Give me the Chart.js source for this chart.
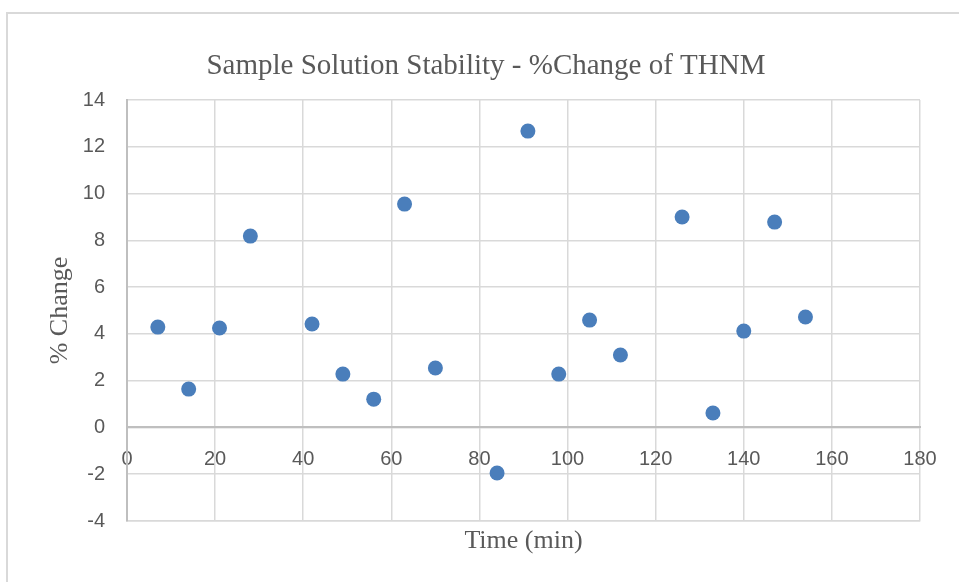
<!DOCTYPE html>
<html>
<head>
<meta charset="utf-8">
<title>Sample Solution Stability</title>
<script src="https://cdn.jsdelivr.net/npm/chart.js@4"></script>
<style>
  html, body { margin: 0; padding: 0; background: #fff; overflow: hidden; }
  #wrap { position: relative; width: 959px; height: 582px; }
  #frame {
    position: absolute; left: 6px; top: 12px; width: 1000px; height: 1000px;
    border-left: 2px solid #d9d9d9; border-top: 2px solid #d9d9d9;
    pointer-events: none;
  }
  canvas { position: absolute; left: 0; top: 0; }
</style>
</head>
<body>
<div id="wrap">
  <div id="frame"></div>
  <canvas id="stabilityChart" width="959" height="582"></canvas>
</div>
<script>
  // sampling times (min) and % change of THNM at each pull
  const timeMin = [7, 14, 21, 28, 42, 49, 56, 63, 70, 84, 91, 98, 105, 112, 126, 133, 140, 147, 154];
  const pctChange = [4.29, 1.64, 4.25, 8.18, 4.42, 2.28, 1.21, 9.55, 2.54, -1.95, 12.67, 2.28, 4.59, 3.1, 9.0, 0.62, 4.12, 8.78, 4.72];

  const xRange = { min: 0, max: 180, step: 20 };
  const yRange = { min: -4, max: 14, step: 2 };

  const chartTitle = 'Sample Solution Stability - %Change of THNM';
  const xTitle = 'Time (min)';
  const yTitle = '% Change';

  const gridColor = '#d9d9d9';
  const axisColor = '#bfbfbf';
  const textColor = '#595959';
  const serif = '"Liberation Serif", "Times New Roman", serif';
  const sans = '"Liberation Sans", Arial, sans-serif';

  const points = timeMin.map((t, i) => ({ x: t, y: pctChange[i] }));

  // title is centred over the plot block rather than the whole canvas
  const titlePlugin = {
    id: 'chartTitle',
    afterDraw(chart) {
      const ctx = chart.ctx;
      ctx.save();
      ctx.font = '29px ' + serif;
      ctx.fillStyle = textColor;
      ctx.textAlign = 'center';
      ctx.textBaseline = 'middle';
      ctx.fillText(chartTitle, 486, 66);
      ctx.restore();
    }
  };

  new Chart(document.getElementById('stabilityChart'), {
    type: 'scatter',
    data: {
      datasets: [{
        label: yTitle,
        data: points,
        backgroundColor: '#4A7EBB',
        borderColor: '#4A7EBB',
        borderWidth: 0,
        pointRadius: 7.5,
        pointHoverRadius: 7.5
      }]
    },
    options: {
      responsive: false,
      animation: false,
      devicePixelRatio: 1,
      layout: { padding: { top: 100, right: 39, bottom: 0, left: 0 } },
      plugins: {
        legend: { display: false },
        title: { display: false },
        tooltip: { enabled: false }
      },
      scales: {
        // bottom axis: vertical grid lines and the axis title only
        x: {
          type: 'linear',
          position: 'bottom',
          min: xRange.min,
          max: xRange.max,
          ticks: { display: false, stepSize: xRange.step },
          grid: { color: gridColor, lineWidth: 1.5, drawTicks: false },
          border: { color: gridColor, width: 1.5 },
          title: {
            display: true,
            text: xTitle,
            color: textColor,
            font: { family: serif, size: 26 },
            padding: { top: 0, bottom: 25 }
          },
          afterFit: s => { s.height = 61; }
        },
        // tick labels and axis line sit on y = 0
        xZero: {
          type: 'linear',
          position: { y: 0 },
          min: xRange.min,
          max: xRange.max,
          ticks: {
            stepSize: xRange.step,
            color: textColor,
            font: { family: sans, size: 20 },
            padding: 20,
            maxRotation: 0,
            autoSkip: false
          },
          grid: { display: false, drawTicks: false },
          border: { color: axisColor, width: 2 }
        },
        y: {
          min: yRange.min,
          max: yRange.max,
          ticks: {
            stepSize: yRange.step,
            color: textColor,
            font: { family: sans, size: 20 },
            padding: 22
          },
          grid: { color: gridColor, lineWidth: 1.5, drawTicks: false },
          border: { color: axisColor, width: 2 },
          title: {
            display: true,
            text: yTitle,
            color: textColor,
            font: { family: serif, size: 26 },
            padding: { top: 45, bottom: 0 }
          },
          afterFit: s => { s.width = 127; }
        }
      }
    },
    plugins: [titlePlugin]
  });
</script>
</body>
</html>
